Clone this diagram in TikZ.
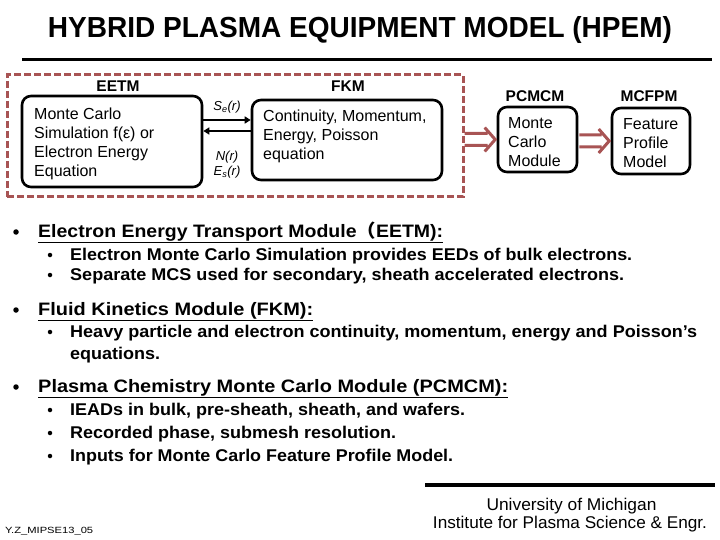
\documentclass[tikz,border=0pt]{standalone}
\usepackage{fontspec}
\setmainfont{Liberation Sans}
\newfontfamily\cjk{Noto Sans CJK SC}
\usetikzlibrary{calc,arrows.meta}
\definecolor{framered}{RGB}{168,84,84}
\newcommand{\hw}[2]{\resizebox{#1}{\height}{#2}}
\newcommand{\fs}[1]{\fontsize{#1}{#1}\selectfont}
\begin{document}
\begin{tikzpicture}[x=1pt,y=-1pt,
  box/.style={draw, line width=2.6pt, rounded corners=9pt, inner sep=0pt},
  lbl/.style={inner sep=0pt, font=\fs{15.5}\bfseries},
  boxtxt/.style={inner sep=0pt, align=left, font=\fontsize{16}{19}\selectfont, anchor=north west},
  sig/.style={inner sep=0pt, font=\fs{13}\itshape},
  line/.style={inner sep=0pt, anchor=base west},
  hdr/.style={line, font=\fs{18}\bfseries},
  sub/.style={line, font=\fs{17}\bfseries},
  bul/.style={circle, fill, inner sep=0pt, minimum size=5.5pt},
  sbul/.style={circle, fill, inner sep=0pt, minimum size=4.5pt},
  hol/.style={draw=framered, line width=3pt},
  link/.style={line width=2.4pt, -{Triangle[length=6pt,width=7pt]}}]
\useasboundingbox (0,0) rectangle (720,540);

% title
\node[inner sep=0pt, anchor=base] (title) at (360,38) {\hw{624pt}{\fs{29}\bfseries HYBRID PLASMA EQUIPMENT MODEL (HPEM)}};
\coordinate (tl) at (22,60);
\coordinate (tr) at (712,60);
\draw[line width=3pt] (tl) -- (tr);

% dashed frame
\node[draw=framered, line width=3pt, dash pattern=on 7pt off 3pt, minimum width=456pt, minimum height=122pt, inner sep=0pt] (frame) at (235,136) {};

% EETM
\node[lbl] (eetmlbl) at (118,86) {EETM};
\node[box, minimum width=180pt, minimum height=91pt] (eetm) at (112,141.5) {};
\node[boxtxt] (eetmt) at (34,108) {Monte Carlo\\Simulation f(ε) or\\Electron Energy\\Equation};

% FKM
\node[lbl] (fkmlbl) at (348,86) {FKM};
\node[box, minimum width=190pt, minimum height=80pt] (fkm) at (347,140) {};
\node[boxtxt] (fkmt) at (263,110) {Continuity, Momentum,\\Energy, Poisson\\equation};

% coupling arrows
\draw[link] (eetm.east |- 0,120) -- (fkm.west |- 0,120);
\draw[link] (fkm.west |- 0,131) -- (eetm.east |- 0,131);
\node[sig] (se) at (227,107) {S\textsubscript{e}(r)};
\node[sig] (nr) at (227,157) {N(r)};
\node[sig] (es) at (227,172) {E\textsubscript{s}(r)};

% PCMCM
\node[lbl] (pclbl) at (535,96) {PCMCM};
\node[box, minimum width=79pt, minimum height=65pt] (pc) at (537.5,139.5) {};
\node[boxtxt] (pct) at (508,117) {Monte\\Carlo\\Module};

% MCFPM
\node[lbl] (mflbl) at (649,96) {MCFPM};
\node[box, minimum width=78pt, minimum height=66pt] (mf) at (651,141) {};
\node[boxtxt] (mft) at (623,118) {Feature\\Profile\\Model};

% hollow arrows
\draw[hol] let \p1=(frame.east), \p2=(pc.west) in
  (\x1,\y2+6pt) -- (\x2-9pt,\y2+6pt)
  (\x1,\y2-6pt) -- (\x2-9pt,\y2-6pt)
  (\x2-12pt,\y2+12pt) -- (\x2-1.5pt,\y2) -- (\x2-12pt,\y2-12pt);
\draw[hol] let \p1=(pc.east), \p2=(mf.west) in
  (\x1+1pt,\y2+6pt) -- (\x2-9pt,\y2+6pt)
  (\x1+1pt,\y2-6pt) -- (\x2-9pt,\y2-6pt)
  (\x2-12pt,\y2+12pt) -- (\x2-1.5pt,\y2) -- (\x2-12pt,\y2-12pt);

% bullets
\node[bul] (b1) at (16,232) {};
\node[hdr] (h1) at (38,237) {\hw{405pt}{\underline{Electron Energy Transport Module{\cjk （}EETM):}}};
\node[sbul] (b11) at (50,255) {};
\node[sub] (s11) at (70,260) {\hw{562pt}{Electron Monte Carlo Simulation provides EEDs of bulk electrons.}};
\node[sbul] (b12) at (50,275) {};
\node[sub] (s12) at (70,280) {\hw{554pt}{Separate MCS used for secondary, sheath accelerated electrons.}};

\node[bul] (b2) at (16,310) {};
\node[hdr] (h2) at (38,315) {\hw{275pt}{\underline{Fluid Kinetics Module (FKM):}}};
\node[sbul] (b21) at (50,332) {};
\node[sub] (s21) at (70,337) {\hw{627pt}{Heavy particle and electron continuity, momentum, energy and Poisson’s}};
\node[sub] (s22) at (70,359) {\hw{90pt}{equations.}};

\node[bul] (b3) at (16,387) {};
\node[hdr] (h3) at (38,392) {\hw{470pt}{\underline{Plasma Chemistry Monte Carlo Module (PCMCM):}}};
\node[sbul] (b31) at (50,410) {};
\node[sub] (s31) at (70,415) {\hw{395pt}{IEADs in bulk, pre-sheath, sheath, and wafers.}};
\node[sbul] (b32) at (50,433) {};
\node[sub] (s32) at (70,438) {\hw{326pt}{Recorded phase, submesh resolution.}};
\node[sbul] (b33) at (50,456) {};
\node[sub] (s33) at (70,461) {\hw{383pt}{Inputs for Monte Carlo Feature Profile Model.}};

% footer
\coordinate (fl) at (425,485);
\coordinate (fr) at (715,485);
\draw[line width=3.5pt] (fl) -- (fr);
\node[inner sep=0pt, anchor=base] (um) at (571.5,510) {\hw{170pt}{\fs{17}University of Michigan}};
\node[inner sep=0pt, anchor=base] (ip) at (570,528) {\hw{274pt}{\fs{17}Institute for Plasma Science \& Engr.}};
\node[inner sep=0pt, anchor=base west] (id) at (5,533) {\hw{88pt}{\fs{9}Y.Z\_MIPSE13\_05}};
\end{tikzpicture}
\end{document}
